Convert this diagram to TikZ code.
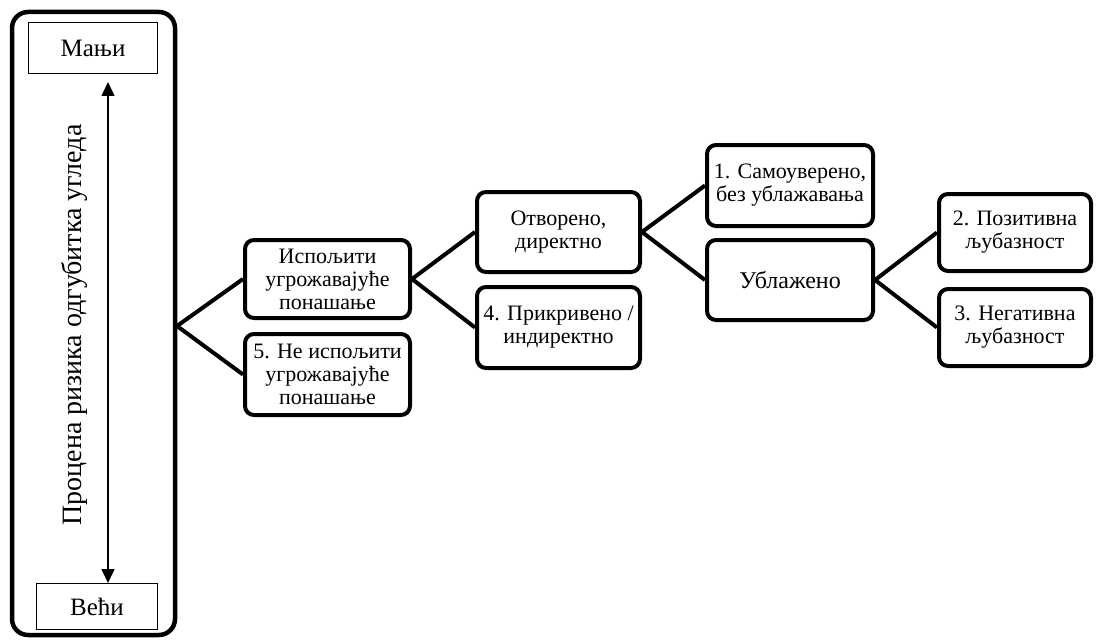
\documentclass[tikz,border=0pt]{standalone}
\usepackage{fontspec}
\setmainfont{Liberation Serif}
\usetikzlibrary{arrows.meta}
\begin{document}
\begin{tikzpicture}[x=1pt,y=-1pt,
  box/.style={draw, line width=4pt, rounded corners=9pt, align=center,
    font=\fontsize{22}{23}\selectfont, inner sep=2pt},
  thinbox/.style={draw, line width=1.2pt, font=\fontsize{25}{27}\selectfont},
  link/.style={line width=4pt},
]
\useasboundingbox (0,0) rectangle (1096,642);
% outer frame
\node[draw, line width=4.5pt, rounded corners=16pt, minimum width=163pt, minimum height=623pt] (outer) at (93.5,323.5) {};
\node[thinbox, minimum width=129pt, minimum height=51pt] (M) at (93,48) {Мањи};
\node[thinbox, minimum width=121pt, minimum height=46pt] (V) at (97,606.5) {Већи};
\coordinate (atop) at (108,82);
\coordinate (abot) at (108,583);
\draw[line width=1.5pt, {Triangle[length=14pt,width=13pt]}-{Triangle[length=14pt,width=13pt]}] (atop) -- (abot);
\node[rotate=90, font=\fontsize{28}{30}\selectfont] (lbl) at (74,325) {Процена ризика одгубитка угледа};
\coordinate (b0) at (177,326);
% boxes
\node[box, minimum width=165pt, minimum height=78pt] (A) at (327.5,279) {Испољити\\угрожавајуће\\понашање};
\node[box, minimum width=165pt, minimum height=81pt] (B) at (327.5,374.5) {5. Не испољити\\угрожавајуће\\понашање};
\node[box, minimum width=163pt, minimum height=80pt] (C) at (558.5,232) {Отворено,\\директно};
\node[box, minimum width=163pt, minimum height=81pt] (D) at (558.5,327.5) {4. Прикривено /\\индиректно};
\node[box, minimum width=166pt, minimum height=81pt] (E) at (790,185.5) {1. Самоуверено,\\без ублажавања};
\node[box, minimum width=166pt, minimum height=80pt, font=\fontsize{24}{26}\selectfont] (F) at (790,280) {Ублажено};
\node[box, minimum width=152pt, minimum height=77pt] (G) at (1015,232.5) {2. Позитивна\\љубазност};
\node[box, minimum width=152pt, minimum height=77pt] (H) at (1015,327.5) {3. Негативна\\љубазност};
% connectors
\draw[link] (A.west) -- (b0) -- (B.west);
\draw[link] (C.west) -- (A.east) -- (D.west);
\draw[link] (E.west) -- (C.east) -- (F.west);
\draw[link] (G.west) -- (F.east) -- (H.west);
\end{tikzpicture}
\end{document}
